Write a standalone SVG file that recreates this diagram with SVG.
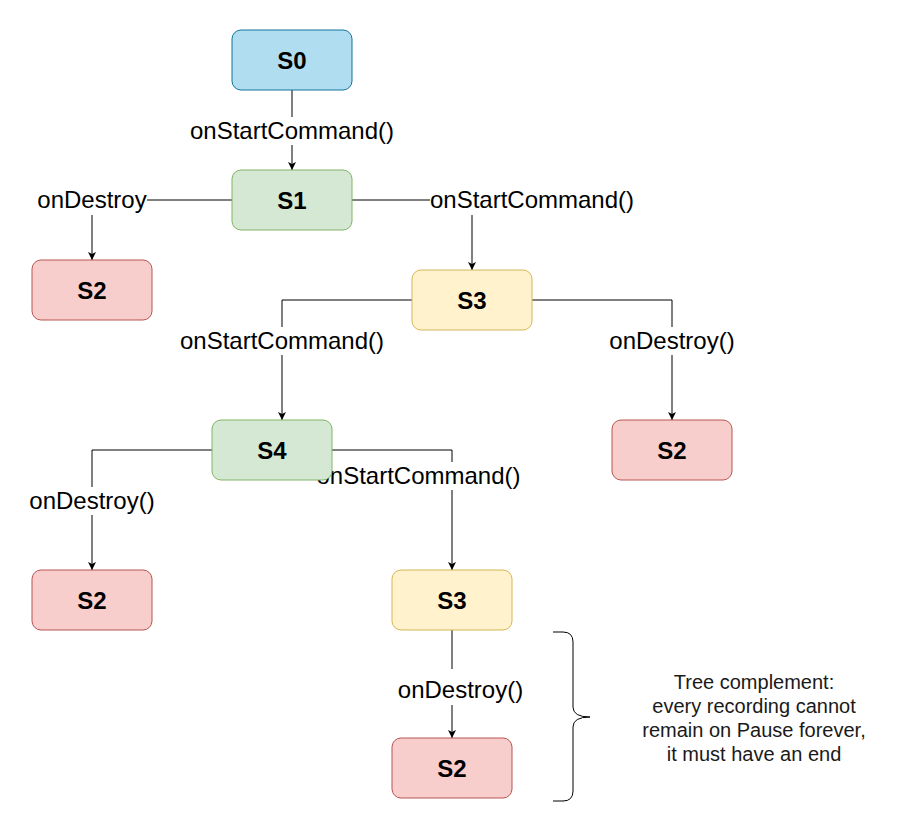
<svg xmlns="http://www.w3.org/2000/svg" width="902" height="833" viewBox="0 0 902 833">
<defs>
<marker id="arr" markerUnits="userSpaceOnUse" markerWidth="9" markerHeight="9" refX="8" refY="4" orient="auto">
<path d="M0,0 L8,4 L0,8 L2,4 Z" fill="#000"/>
</marker>
<style>
.node rect{stroke-width:1}
.nt{font-family:"Liberation Sans",Arial,sans-serif;font-weight:bold;font-size:24px;text-anchor:middle;fill:#000}
.blue{fill:#b1ddf0;stroke:#10739e}
.green{fill:#d5e8d4;stroke:#82b366}
.red{fill:#f8cecc;stroke:#b85450}
.yellow{fill:#fff2cc;stroke:#d6b656}
.edge{fill:none;stroke:#000;stroke-width:1}
.lbg{fill:#fff}
.lt{font-family:"Liberation Sans",Arial,sans-serif;font-size:24px;text-anchor:middle;fill:#000}
.note{font-family:"Liberation Sans",Arial,sans-serif;font-size:20px;text-anchor:middle;fill:#1a1a1a}
</style>
</defs>
<rect width="902" height="833" fill="#fff"/>
<g id="connectors">
<path class="edge" d="M292,90 L292,170" marker-end="url(#arr)"/>
<path class="edge" d="M232,200 L92,200 L92,260" marker-end="url(#arr)"/>
<path class="edge" d="M352,200 L472,200 L472,270" marker-end="url(#arr)"/>
<path class="edge" d="M412,300 L282,300 L282,420" marker-end="url(#arr)"/>
<path class="edge" d="M532,300 L672,300 L672,420" marker-end="url(#arr)"/>
<path class="edge" d="M212,450 L92,450 L92,570" marker-end="url(#arr)"/>
<path class="edge" d="M332,450 L452,450 L452,570" marker-end="url(#arr)"/>
<path class="edge" d="M452,630 L452,738" marker-end="url(#arr)"/>
<g id="edge-labels">
<rect class="lbg" x="190" y="117" width="204" height="28"/>
<text class="lt" x="292" y="139">onStartCommand()</text>
<rect class="lbg" x="37" y="186" width="110" height="29"/>
<text class="lt" x="92" y="208">onDestroy</text>
<rect class="lbg" x="430" y="186" width="205" height="29"/>
<text class="lt" x="532" y="208">onStartCommand()</text>
<rect class="lbg" x="180" y="327" width="205" height="28"/>
<text class="lt" x="282" y="349">onStartCommand()</text>
<rect class="lbg" x="609" y="327" width="127" height="28"/>
<text class="lt" x="672" y="349">onDestroy()</text>
<rect class="lbg" x="29" y="487" width="127" height="28"/>
<text class="lt" x="92" y="509">onDestroy()</text>
<rect class="lbg" x="316" y="462" width="205" height="28"/>
<text class="lt" x="418.5" y="484">onStartCommand()</text>
<rect class="lbg" x="397" y="669" width="127" height="36"/>
<text class="lt" x="460.5" y="698">onDestroy()</text>
</g>
</g>
<g id="S0" class="node"><rect class="blue" x="232" y="30" width="120" height="60" rx="9"/><text class="nt" x="292" y="69">S0</text></g>
<g id="S1" class="node"><rect class="green" x="232" y="170" width="120" height="60" rx="9"/><text class="nt" x="292" y="209">S1</text></g>
<g id="S2a" class="node"><rect class="red" x="32" y="260" width="120" height="60" rx="9"/><text class="nt" x="92" y="299">S2</text></g>
<g id="S3a" class="node"><rect class="yellow" x="412" y="270" width="120" height="60" rx="9"/><text class="nt" x="472" y="309">S3</text></g>
<g id="S2b" class="node"><rect class="red" x="612" y="420" width="120" height="60" rx="9"/><text class="nt" x="672" y="459">S2</text></g>
<g id="S4" class="node"><rect class="green" x="212" y="420" width="120" height="60" rx="9"/><text class="nt" x="272" y="459">S4</text></g>
<g id="S2c" class="node"><rect class="red" x="32" y="570" width="120" height="60" rx="9"/><text class="nt" x="92" y="609">S2</text></g>
<g id="S3b" class="node"><rect class="yellow" x="392" y="570" width="120" height="60" rx="9"/><text class="nt" x="452" y="609">S3</text></g>
<g id="S2d" class="node"><rect class="red" x="392" y="738" width="120" height="60" rx="9"/><text class="nt" x="452" y="777">S2</text></g>
<g id="brace">
<path d="M553,632 L563,632 Q573,632 573,642 L573,707 Q573,717 590,717 Q573,717 573,727 L573,791 Q573,801 563,801 L553,801" fill="none" stroke="#000" stroke-width="1"/>
</g>
<g id="note">
<text class="note" x="754" y="689">Tree complement:</text>
<text class="note" x="754" y="713">every recording cannot</text>
<text class="note" x="754" y="737">remain on Pause forever,</text>
<text class="note" x="754" y="761">it must have an end</text>
</g>
</svg>
